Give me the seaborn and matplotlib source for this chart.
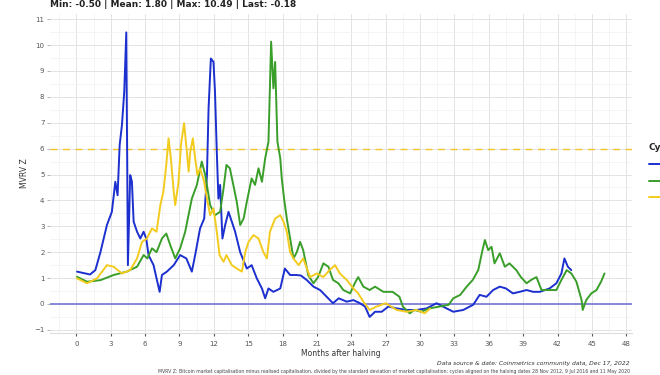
import matplotlib
matplotlib.use("Agg")
import matplotlib.pyplot as plt
from matplotlib.ticker import MultipleLocator
import seaborn as sns
import pandas as pd

# ---- data (months after halving, MVRV Z) ----
cycle_names = ["2012", "2016", "2020"]
cycle_colors = ["#1c2fcf", "#3a9e2a", "#f3cb1e"]

blue_months = [0.06, 1.2, 1.66, 2.1, 2.67, 3.1, 3.4, 3.6, 3.78, 3.98, 4.18, 4.36, 4.5, 4.7,
               4.85, 5.0, 5.3, 5.58, 5.87, 6.1, 6.3, 6.74, 7.0, 7.27, 7.47, 7.9, 8.5, 9.06,
               9.6, 10.08, 10.37, 10.8, 11.16, 11.4, 11.54, 11.74, 11.97, 12.1, 12.26, 12.4,
               12.55, 12.75, 12.99, 13.28, 13.57, 13.86, 14.3, 14.88, 15.3, 15.75, 16.2,
               16.48, 16.77, 17.2, 17.8, 18.2, 18.66, 19.2, 19.6, 20.1, 20.7, 21.27, 21.85,
               22.4, 22.9, 23.6, 24.18, 24.76, 25.2, 25.6, 26.07, 26.65, 27.23, 27.96, 28.83,
               29.7, 30.57, 31.44, 32.0, 32.9, 33.77, 34.64, 35.2, 35.8, 36.38, 36.96, 37.5,
               38.1, 38.7, 39.3, 39.87, 40.45, 41.3, 41.9, 42.34, 42.6, 42.9, 43.2]
blue_values = [1.25, 1.14, 1.31, 2.0, 3.05, 3.56, 4.72, 4.2, 6.14, 6.91, 8.2, 10.49, 1.5, 4.98,
               4.72, 3.18, 2.79, 2.53, 2.79, 2.53, 1.89, 1.5, 0.99, 0.47, 1.12, 1.25, 1.5, 1.89,
               1.76, 1.25, 1.89, 2.92, 3.3, 4.98, 7.55, 9.48, 9.35, 8.2, 5.87, 4.07,
               4.6, 2.53, 3.05, 3.56, 3.18, 2.79, 2.0, 1.37, 1.5, 0.99, 0.6,
               0.22, 0.6, 0.47, 0.6, 1.37, 1.12, 1.12, 1.1, 0.93, 0.67, 0.54, 0.28,
               0.03, 0.22, 0.09, 0.15, 0.03, -0.1, -0.5, -0.3, -0.3, -0.1, -0.17, -0.23,
               -0.23, -0.17, 0.03, -0.1, -0.3, -0.23, -0.03, 0.35, 0.28, 0.54, 0.67, 0.6,
               0.41, 0.47, 0.54, 0.47, 0.47, 0.6, 0.8, 1.18, 1.76, 1.44, 1.31]

green_months = [0.06, 0.93, 2.1, 3.25, 4.4, 5.3, 5.87, 6.2, 6.6, 7.0, 7.47, 7.85, 8.2, 8.63,
                9.06, 9.5, 10.08, 10.52, 10.95, 11.25, 11.68, 12.1, 12.55, 12.85, 13.1, 13.4,
                13.7, 14.0, 14.3, 14.6, 14.88, 15.3, 15.6, 15.9, 16.2, 16.48, 16.77, 17.0,
                17.2, 17.35, 17.55, 17.8, 17.93, 18.13, 18.37, 18.66, 18.95, 19.24, 19.53,
                19.8, 20.25, 20.7, 21.1, 21.56, 22.0, 22.4, 22.87, 23.3, 23.9, 24.3, 24.6,
                25.05, 25.6, 26.07, 26.8, 27.6, 28.2, 28.5, 29.1, 29.5, 30.1, 30.8, 31.7,
                32.5, 32.9, 33.5, 34.07, 34.6, 35.08, 35.45, 35.66, 35.95, 36.24, 36.5,
                36.96, 37.4, 37.8, 38.4, 38.8, 39.3, 39.7, 40.16, 40.6, 41.2, 41.9, 42.34,
                42.8, 43.2, 43.65, 44.1, 44.2, 44.5, 44.95, 45.4, 45.8, 46.1]
green_values = [1.05, 0.86, 0.92, 1.12, 1.25, 1.44, 1.89, 1.76, 2.15, 2.0, 2.53, 2.72, 2.27, 1.76,
                2.15, 2.79, 4.07, 4.6, 5.5, 4.98, 3.82, 3.43, 3.56, 4.47, 5.37, 5.24,
                4.6, 3.95, 3.05, 3.3, 3.95, 4.85, 4.6, 5.24, 4.72, 5.62, 6.27, 10.13,
                8.33, 9.35, 6.27, 5.62, 4.85, 4.07, 3.3, 2.53, 1.76, 2.0, 2.4,
                2.08, 1.1, 0.8, 1.04, 1.57, 1.44, 0.93, 0.8, 0.54, 0.41, 0.8, 1.04,
                0.67, 0.54, 0.67, 0.47, 0.47, 0.28, -0.1, -0.36, -0.23, -0.3, -0.17, -0.1,
                -0.03, 0.22, 0.35, 0.67, 0.93, 1.31, 2.08, 2.47, 2.08, 2.21, 1.57,
                1.96, 1.44, 1.57, 1.31, 1.04, 0.8, 0.93, 1.04, 0.54, 0.54, 0.54, 0.93,
                1.31, 1.18, 0.86, 0.15, -0.23, 0.15, 0.41, 0.54, 0.86, 1.18]

yellow_months = [0.06, 0.93, 1.8, 2.67, 3.25, 3.98, 4.7, 5.3, 5.73, 6.16, 6.6, 7.0, 7.33, 7.6,
                 7.85, 8.05, 8.25, 8.5, 8.63, 8.92, 9.13, 9.4, 9.65, 9.8, 9.94, 10.17, 10.37,
                 10.57, 10.8, 11.16, 11.4, 11.68, 11.97, 12.26, 12.5, 12.85, 13.1, 13.57,
                 14.0, 14.45, 14.74, 15.03, 15.46, 15.9, 16.33, 16.63, 16.9, 17.35, 17.8,
                 18.08, 18.37, 18.66, 18.95, 19.4, 19.8, 20.1, 20.4, 21.0, 21.56, 22.1,
                 22.58, 23.0, 23.6, 24.18, 24.6, 25.05, 25.6, 26.2, 27.0, 27.96, 28.83,
                 29.7, 30.4, 30.87]
yellow_values = [0.99, 0.8, 0.99, 1.5, 1.44, 1.18, 1.31, 1.76, 2.4, 2.53, 2.92, 2.79, 3.82, 4.34,
                 5.37, 6.4, 5.62, 4.34, 3.82, 4.72, 6.14, 6.98, 5.87, 5.11, 5.87, 6.4, 5.62,
                 4.98, 5.24, 4.72, 4.07, 3.43, 3.69, 2.79, 1.89, 1.63, 1.89, 1.5,
                 1.37, 1.25, 2.0, 2.4, 2.66, 2.53, 2.0, 1.76, 2.79, 3.3, 3.43,
                 3.18, 2.79, 2.0, 1.76, 1.5, 1.76, 1.4, 1.04, 1.18, 1.04, 1.31,
                 1.5, 1.18, 0.93, 0.6, 0.41, 0.09, -0.23, -0.1, 0.03, -0.23, -0.3,
                 -0.23, -0.36, -0.18]

x_ticks = list(range(0, 49, 3))
y_ticks = list(range(-1, 12))
threshold_value = 6
title_text = "Min: -0.50 | Mean: 1.80 | Max: 10.49 | Last: -0.18"
x_label = "Months after halving"
y_label = "MVRV Z"
caption1 = "Data source & date: Coinmetrics community data, Dec 17, 2022"
caption2 = ("MVRV Z: Bitcoin market capitalisation minus realised capitalisation, divided by the standard "
            "deviation of market capitalisation; cycles aligned on the halving dates 28 Nov 2012, 9 Jul 2016 and 11 May 2020")

df = pd.concat([
    pd.DataFrame({"Months": blue_months, "MVRV Z": blue_values, "Cycle": cycle_names[0]}),
    pd.DataFrame({"Months": green_months, "MVRV Z": green_values, "Cycle": cycle_names[1]}),
    pd.DataFrame({"Months": yellow_months, "MVRV Z": yellow_values, "Cycle": cycle_names[2]}),
], ignore_index=True)

sns.set_theme(style="whitegrid")
plt.rcParams["font.family"] = ["DejaVu Sans"]

fig = plt.figure(figsize=(6.6, 3.75), dpi=100)
ax = fig.add_axes([50 / 660, 1 - 333 / 375, (632 - 50) / 660, (333 - 14) / 375])

ax.axhline(0, color="#7f80d6", lw=1.3, zorder=1)
ax.axhline(threshold_value, color="#f1c42a", lw=1.0, ls=(0, (5, 4)), zorder=1)

sns.lineplot(data=df, x="Months", y="MVRV Z", hue="Cycle", palette=cycle_colors,
             estimator=None, sort=False, lw=1.4, ax=ax, zorder=3)

ax.set_xlim(-2.3, 48.5)
ax.set_ylim(-1.12, 11.2)
ax.set_xticks(x_ticks)
ax.set_yticks(y_ticks)
ax.xaxis.set_minor_locator(MultipleLocator(1.5))
ax.yaxis.set_minor_locator(MultipleLocator(0.5))
ax.grid(which="major", color="#e3e3e3", lw=0.7)
ax.grid(which="minor", color="#f1f1f1", lw=0.5)
ax.set_axisbelow(True)
for s in ["top", "right", "left"]:
    ax.spines[s].set_visible(False)
ax.spines["bottom"].set_color("#dddddd")
ax.spines["bottom"].set_linewidth(0.8)
ax.tick_params(axis="x", which="major", length=2.5, width=0.8, color="#555555",
               labelsize=5, labelcolor="#555555", pad=3, bottom=True)
ax.tick_params(axis="y", which="major", length=2, width=0.6, color="#aaaaaa",
               labelsize=5, labelcolor="#555555", pad=2, left=True)
ax.tick_params(which="minor", length=0)

ax.set_xlabel(x_label, fontsize=5.5, color="#333333", labelpad=2)
ax.set_ylabel(y_label, fontsize=5.5, color="#333333", labelpad=4)

handles, labels = ax.get_legend_handles_labels()
ax.get_legend().remove()
leg = ax.legend(handles, labels, title="Cycle", loc="center left",
                bbox_to_anchor=(0.978, 0.54), bbox_transform=fig.transFigure,
                frameon=False, fontsize=5.5, title_fontsize=6.5, handlelength=2.6,
                labelspacing=1.0, borderaxespad=0)
leg.get_title().set_fontweight("bold")
leg._legend_box.align = "left"

fig.text(50 / 660, 0.987, title_text, fontsize=6.5, fontweight="bold",
         ha="left", va="center", color="#222222")
fig.text(630 / 660, 1 - 363 / 375, caption1, fontsize=4.3, style="italic",
         ha="right", va="center", color="#333333")
fig.text(630 / 660, 1 - 371 / 375, caption2, fontsize=3.3,
         ha="right", va="center", color="#444444")

fig.savefig("out.png", dpi=100)
